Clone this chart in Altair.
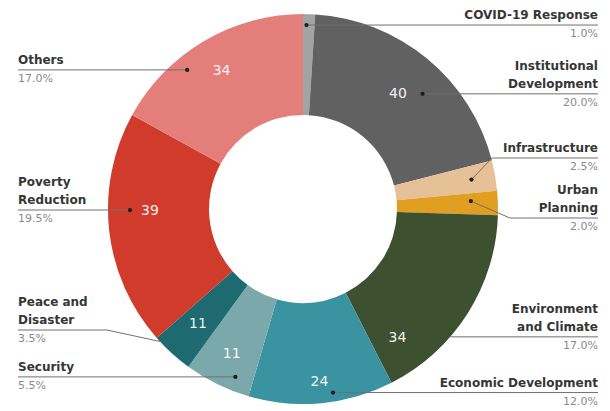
import math
import altair as alt
import pandas as pd

# ---------------- data ----------------
categories = ["COVID-19 Response", "Institutional Development", "Infrastructure",
              "Urban Planning", "Environment and Climate", "Economic Development",
              "Security", "Peace and Disaster", "Poverty Reduction", "Others"]
values = [2, 40, 5, 4, 34, 24, 11, 7, 39, 34]
slice_labels = ["", "40", "", "", "34", "24", "11", "11", "39", "34"]
name_lines = [["COVID-19 Response"], ["Institutional", "Development"], ["Infrastructure"],
              ["Urban", "Planning"], ["Environment", "and Climate"], ["Economic Development"],
              ["Security"], ["Peace and", "Disaster"], ["Poverty", "Reduction"], ["Others"]]
colors = ["#a3a3a3", "#616161", "#e6c096", "#e19f22", "#3d5131", "#3a93a1",
          "#7ba8aa", "#1d6a70", "#d13b2c", "#e37e7b"]

# ---------------- layout ----------------
W, H = 590, 402
CX, CY = W / 2, H / 2
R_OUT, R_IN = 195, 94
LEFT_X, RIGHT_X = 10, 590
sides = ["right"] * 6 + ["left"] * 4
dot_frac = [0.3, 0.59, 0.5, 0.375, 0.64, 0.41, 0.29, 0.89, 0.585, 0.35]
dot_r = [184, 166, 171, 168, 195, 186, 181, 195, 173, 181]
show_dot = [True, True, True, True, False, True, True, False, True, True]
elbow_rule_y = [None, None, 150, 210, None, None, None, 322, None, None]
elbow_x = [None, None, 484, 502, None, None, None, 99, None, None]
text_frac = [0.5, 0.5, 0.5, 0.5, 0.85, 0.5, 0.5, 0.5, 0.58, 0.5]
text_r = [0, 149, 0, 0, 160, 174, 162, 156, 153, 160]

total = sum(values)
cum = [sum(values[:i]) for i in range(len(values))]
theta_scale = alt.Scale(domain=[0, total], range=[0, 2 * math.pi])
xs = alt.Scale(domain=[0, W], nice=False, zero=False)
ys = alt.Scale(domain=[H, 0], nice=False, zero=False)

slices = pd.DataFrame({"category": categories, "value": values, "idx": range(len(values))})

arc = alt.Chart(slices).mark_arc(outerRadius=R_OUT, innerRadius=R_IN).encode(
    theta=alt.Theta("value:Q", stack=True, scale=theta_scale),
    color=alt.Color("category:N", scale=alt.Scale(domain=categories, range=colors), legend=None),
    order=alt.Order("idx:Q", sort="ascending"),
)

inner = pd.DataFrame({
    "tpos": [c + f * v for c, f, v in zip(cum, text_frac, values)],
    "tr": text_r,
    "lab": slice_labels,
})
inner = inner[inner["lab"] != ""]
inner_text = alt.Chart(inner).mark_text(
    font="DejaVu Sans", fontSize=14, color="white", opacity=0.92,
    align="center", baseline="middle").encode(
    theta=alt.Theta("tpos:Q", stack=None, scale=theta_scale),
    radius=alt.Radius("tr:Q", scale=None),
    text="lab:N",
)

line_rows, dot_rows, name_rows, pct_rows = [], [], [], []
for i, cat in enumerate(categories):
    a = (cum[i] + dot_frac[i] * values[i]) / total * 2 * math.pi
    dx = CX + dot_r[i] * math.sin(a)
    dy = CY - dot_r[i] * math.cos(a)
    edge = RIGHT_X if sides[i] == "right" else LEFT_X
    pts = [(dx, dy)]
    if elbow_rule_y[i] is not None:
        ry = elbow_rule_y[i]
        pts.append((elbow_x[i], ry))
    else:
        ry = dy
    pts.append((edge, ry))
    for k, (px, py) in enumerate(pts):
        line_rows.append({"category": cat, "pt": k, "x": px, "y": py})
    if show_dot[i]:
        dot_rows.append({"x": dx, "y": dy})
    nl = name_lines[i]
    for j, t in enumerate(nl):
        name_rows.append({"x": edge, "y": ry - 6 - 18 * (len(nl) - 1 - j),
                          "text": t, "side": sides[i]})
    pct_rows.append({"x": edge, "y": ry + 12,
                     "text": f"{values[i] / total * 100:.1f}%", "side": sides[i]})

lines_df = pd.DataFrame(line_rows)
dots_df = pd.DataFrame(dot_rows)
names_df = pd.DataFrame(name_rows)
pcts_df = pd.DataFrame(pct_rows)

X = alt.X("x:Q", scale=xs, axis=None)
Y = alt.Y("y:Q", scale=ys, axis=None)

leaders = alt.Chart(lines_df).mark_line(color="#707070", strokeWidth=1).encode(
    x=X, y=Y, detail="category:N", order="pt:Q")
dots = alt.Chart(dots_df).mark_circle(size=18, color="#1e1e1e", opacity=1).encode(x=X, y=Y)


def text_layer(df, side, **kw):
    return alt.Chart(df[df["side"] == side]).mark_text(
        align=side, baseline="alphabetic", **kw).encode(x=X, y=Y, text="text:N")


name_kw = dict(font="DejaVu Sans", fontWeight="bold", fontSize=12, color="#363636")
pct_kw = dict(font="DejaVu Sans", fontSize=11, color="#8a8a8a")

chart = alt.layer(
    arc, inner_text, leaders, dots,
    text_layer(names_df, "left", **name_kw), text_layer(names_df, "right", **name_kw),
    text_layer(pcts_df, "left", **pct_kw), text_layer(pcts_df, "right", **pct_kw),
).properties(
    width=W, height=H, padding=0, autosize=alt.AutoSizeParams(type="none")
).configure_view(stroke=None)

chart.save("out.html", embed_options={"renderer": "svg", "actions": False})
